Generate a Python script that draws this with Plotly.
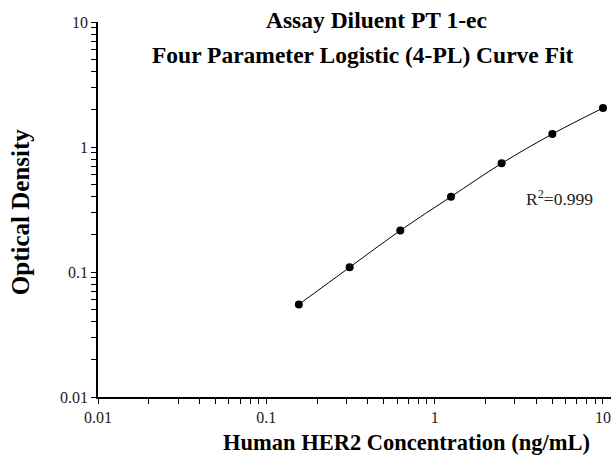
import plotly.graph_objects as go

concentration = [0.156, 0.3125, 0.625, 1.25, 2.5, 5, 10]
optical_density = [0.055, 0.109, 0.215, 0.40, 0.74, 1.27, 2.05]
decades = [0.01, 0.1, 1, 10]
decade_labels = ["0.01", "0.1", "1", "10"]

# major decade ticks plus unlabelled 2..9 minor ticks
tick_vals = []
tick_text = []
for d, lab in zip(decades, decade_labels):
    tick_vals.append(d)
    tick_text.append(lab)
    if d < 10:
        for m in range(2, 10):
            tick_vals.append(m * d)
            tick_text.append("")

fig = go.Figure()
fig.add_trace(go.Scatter(
    x=concentration, y=optical_density, mode="lines",
    line=dict(color="black", width=1, shape="spline", smoothing=1.0),
    hoverinfo="skip", showlegend=False, cliponaxis=False))
fig.add_trace(go.Scatter(
    x=concentration, y=optical_density, mode="markers",
    marker=dict(color="black", size=8), showlegend=False, cliponaxis=False))

font = "Liberation Serif"
tickfont = dict(family=font, size=16, color="#222222")
common = dict(type="log", showline=True, linecolor="black", linewidth=1.5,
              ticks="outside", ticklen=5, tickwidth=1, tickcolor="black",
              showgrid=False, zeroline=False, tickfont=tickfont,
              tickmode="array", tickvals=tick_vals, ticktext=tick_text)
fig.update_layout(
    width=611, height=459,
    margin=dict(l=98, r=0, t=22, b=62),
    plot_bgcolor="white", paper_bgcolor="white",
    font=dict(family=font, color="black", size=12),
    xaxis=dict(range=[-2, 1.0476], **common),
    yaxis=dict(range=[-2, 1], **common),
    annotations=[
        dict(text="<b>Assay Diluent PT 1-ec</b>", xref="paper", yref="paper", x=0.542, y=1.005,
             xanchor="center", yanchor="middle", showarrow=False, font=dict(family=font, size=23.5)),
        dict(text="<b>Four Parameter Logistic (4-PL) Curve Fit</b>", xref="paper", yref="paper", x=0.517, y=0.912,
             xanchor="center", yanchor="middle", showarrow=False, font=dict(family=font, size=23.5)),
        dict(text="<b>Human HER2 Concentration (ng/mL)</b>", xref="paper", yref="paper", x=0.602, y=-0.12,
             xanchor="center", yanchor="middle", showarrow=False, font=dict(family=font, size=22.5)),
        dict(text="<b>Optical Density</b>", xref="paper", yref="paper", x=-0.152, y=0.493, textangle=-90,
             xanchor="center", yanchor="middle", showarrow=False, font=dict(family=font, size=25)),
        dict(text="R<sup>2</sup>=0.999", xref="paper", yref="paper", x=0.90, y=0.53,
             xanchor="center", yanchor="middle", showarrow=False, font=dict(family=font, size=17.5, color="#222")),
    ],
)
fig.write_html("out.html", config={"displayModeBar": False},
               post_script="document.body.style.margin='0';")
